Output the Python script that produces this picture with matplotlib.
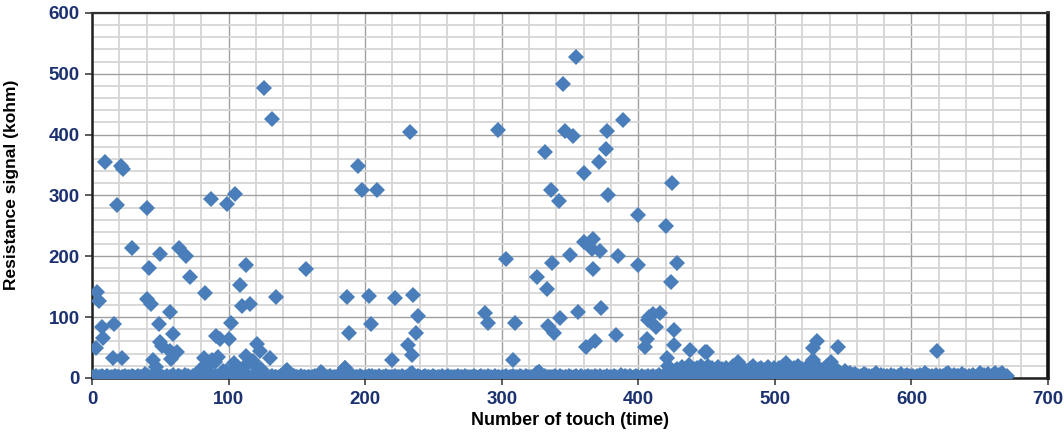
import numpy as np
import matplotlib
matplotlib.use('Agg')
import matplotlib.pyplot as plt
from matplotlib.ticker import MultipleLocator

# baseline reading for every touch 0..670 (kohm)
base_signal = [
    0, 2, 1, 3, 0, 1, 2, 4, 1, 0, 2, 3, 1, 0, 1, 2, 0, 3, 1, 2,
    1, 0, 2, 1, 3, 0, 2, 1, 0, 4, 1, 2, 0, 1, 3, 2, 1, 0, 2, 6,
    1, 3, 0, 2, 1, 0, 2, 3, 1, 0, 4, 1, 2, 0, 1, 3, 0, 2, 1, 5,
    2, 0, 1, 3, 4, 1, 0, 2, 5, 1, 3, 2, 0, 1, 4, 2, 3, 6, 1, 2,
    3, 1, 0, 2, 4, 1, 3, 0, 2, 1, 0, 3, 2, 4, 1, 0, 2, 3, 1, 0,
    2, 1, 3, 0, 1, 2, 0, 4, 1, 3, 2, 0, 1, 2, 3, 1, 0, 2, 1, 3,
    1, 2, 0, 3, 1, 0, 2, 1, 4, 0, 2, 1, 3, 0, 1, 2, 0, 1, 3, 2,
    4, 7, 11, 13, 6, 2, 1, 0, 3, 1, 2, 0, 1, 3, 0, 2, 1, 0, 2, 1,
    0, 2, 1, 3, 1, 0, 4, 7, 10, 6, 2, 1, 0, 2, 3, 1, 0, 2, 1, 0,
    3, 1, 5, 9, 12, 16, 4, 1, 2, 0, 1, 3, 0, 2, 1, 0, 3, 1, 2, 0,
    1, 2, 0, 3, 1, 4, 0, 1, 2, 0, 3, 1, 0, 2, 1, 3, 0, 1, 2, 0,
    2, 1, 3, 0, 1, 2, 0, 4, 1, 0, 2, 1, 3, 6, 8, 5, 2, 0, 1, 3,
    1, 0, 2, 1, 3, 0, 1, 2, 0, 1, 3, 2, 0, 1, 2, 0, 3, 1, 0, 2,
    1, 3, 0, 2, 1, 0, 2, 1, 3, 0, 1, 2, 0, 3, 1, 2, 0, 1, 2, 0,
    3, 1, 0, 2, 1, 4, 0, 1, 2, 0, 3, 1, 2, 0, 1, 3, 0, 2, 1, 0,
    2, 0, 1, 3, 1, 0, 2, 1, 4, 0, 2, 1, 0, 3, 1, 2, 0, 1, 3, 2,
    0, 1, 2, 0, 4, 6, 9, 10, 5, 2, 0, 1, 3, 0, 2, 1, 0, 2, 1, 3,
    1, 0, 2, 3, 1, 0, 2, 1, 0, 3, 1, 2, 0, 1, 4, 2, 0, 1, 3, 1,
    0, 2, 1, 3, 0, 1, 2, 0, 4, 1, 2, 0, 3, 1, 0, 2, 1, 3, 0, 2,
    1, 0, 3, 2, 1, 0, 2, 5, 1, 0, 3, 1, 2, 0, 4, 1, 0, 2, 3, 1,
    2, 0, 1, 3, 0, 2, 1, 4, 0, 1, 2, 3, 0, 1, 2, 5, 1, 0, 3, 2,
    1, 4, 0, 2, 6, 3, 8, 12, 15, 9, 5, 13, 18, 7, 2, 10, 16, 21, 11, 4,
    8, 14, 3, 17, 10, 6, 19, 12, 2, 9, 15, 20, 5, 11, 16, 7, 13, 1, 18, 10,
    6, 14, 9, 3, 17, 12, 0, 8, 15, 20, 11, 4, 13, 7, 18, 10, 2, 16, 9, 5,
    12, 3, 15, 8, 19, 6, 11, 0, 14, 9, 17, 4, 10, 13, 2, 18, 7, 12, 5, 16,
    9, 1, 13, 17, 6, 11, 20, 14, 3, 22, 8, 15, 10, 4, 16, 12, 7, 19, 5, 11,
    14, 2, 9, 17, 6, 13, 21, 10, 18, 4, 12, 0, 16, 8, 3, 11, 15, 5, 20, 9,
    13, 6, 10, 2, 15, 8, 12, 4, 9, 3, 7, 11, 2, 6, 4, 8, 1, 5, 3, 7,
    2, 4, 1, 3, 0, 6, 2, 5, 1, 3, 0, 4, 2, 1, 9, 3, 0, 2, 5, 1,
    3, 1, 4, 0, 2, 5, 1, 3, 2, 0, 4, 1, 6, 2, 0, 3, 1, 5, 2, 4,
    1, 3, 0, 2, 4, 1, 5, 2, 0, 3, 8, 1, 2, 4, 0, 3, 1, 2, 5, 2,
    0, 3, 1, 4, 2, 6, 1, 9, 3, 0, 2, 5, 1, 3, 4, 0, 2, 6, 1, 3,
    2, 0, 4, 1, 3, 5, 0, 2, 1, 4, 8, 3, 1, 5, 2, 0, 7, 3, 1, 4,
    2, 9, 3, 1, 5, 0, 8, 2, 4, 1, 3,
]
base_touch = list(range(len(base_signal)))

# touches with a clear resistance peak
peak_touch = [
    3, 4, 5, 7, 8, 9.5, 15, 16, 18, 21, 23, 22, 29, 40, 42, 40, 43, 45, 47,
    50, 49, 51, 50, 57, 59, 57, 62, 58, 64, 69, 72, 83, 87, 91, 94, 100, 99,
    102, 105, 108, 110, 113, 116, 113, 121, 123, 126, 130, 132, 135, 82, 84,
    88, 92, 96, 104, 106, 112, 118, 124, 80, 86, 90, 98, 119,
    157, 185, 187, 188, 195, 198, 203, 204, 209, 220, 222, 231, 233, 234,
    235, 237, 239, 288, 290, 297, 303, 308, 310, 326, 327, 333, 334, 336,
    338, 332, 342, 337, 343, 345, 346, 350, 352, 354, 356, 360, 360, 362, 366,
    367, 367, 368, 371, 372, 373, 376, 377, 378, 384, 385, 389, 400, 400,
    405, 406, 407, 408, 411, 413, 416, 420, 421, 422, 424, 425, 426, 426,
    428, 438, 449, 450, 473, 508, 528, 528, 531, 541, 546, 619,
]
peak_signal = [
    49, 141, 127, 84, 66, 355, 33, 88, 285, 349, 344, 33, 214, 279, 181, 130,
    122, 29, 18, 204, 89, 53, 59, 108, 72, 44, 43, 32, 214, 200, 166, 140, 295,
    69, 64, 64, 286, 90, 303, 153, 118, 186, 122, 36, 56, 45, 477, 33, 426, 133,
    33, 22, 30, 35, 12, 24, 18, 20, 28, 15, 14, 10, 26, 12, 20,
    179, 16, 133, 74, 349, 309, 135, 88, 309, 29, 131, 55, 404, 38,
    136, 74, 102, 107, 90, 408, 195, 30, 90, 166, 10, 146, 86, 309,
    74, 372, 291, 189, 99, 483, 406, 202, 397, 528, 108, 337, 224, 51, 212,
    228, 179, 61, 355, 209, 115, 376, 406, 301, 71, 201, 424, 268, 185,
    51, 64, 95, 100, 105, 84, 107, 250, 33, 20, 158, 320, 79, 54,
    189, 46, 43, 43, 27, 25, 49, 30, 60, 27, 51, 44,
]

marker_color = '#4a7ebb'
tick_color = '#1c3170'

fig = plt.figure(figsize=(10.64, 4.32), dpi=100)
ax = fig.add_axes([0.0865, 0.125, 0.8985, 0.845])

ax.plot(base_touch, base_signal, 'D', color=marker_color, ms=8.5, mew=0, zorder=3)
ax.plot(peak_touch, peak_signal, 'D', color=marker_color, ms=8.5, mew=0, zorder=3)

ax.set_xlim(0, 700)
ax.set_ylim(0, 600)
ax.xaxis.set_major_locator(MultipleLocator(100))
ax.yaxis.set_major_locator(MultipleLocator(100))
ax.xaxis.set_minor_locator(MultipleLocator(20))
ax.yaxis.set_minor_locator(MultipleLocator(20))

ax.grid(which='major', color='#a0a0a0', linewidth=1.0, zorder=0)
ax.grid(which='minor', color='#d6d6d6', linewidth=1.3, zorder=0)
ax.set_axisbelow(True)

ax.tick_params(which='major', direction='out', length=5, width=1.2,
               colors='#404040', labelcolor=tick_color, labelsize=13.5, pad=4)
ax.tick_params(which='minor', length=0)
for lab in ax.get_xticklabels() + ax.get_yticklabels():
    lab.set_fontweight('bold')
    lab.set_fontfamily('Liberation Sans')

ax.spines['left'].set_linewidth(1.8)
ax.spines['left'].set_color('#202020')
ax.spines['bottom'].set_linewidth(1.8)
ax.spines['bottom'].set_color('#202020')
ax.spines['top'].set_linewidth(1.6)
ax.spines['top'].set_color('#303030')
ax.spines['right'].set_linewidth(2.6)
ax.spines['right'].set_color('#111111')

ax.set_xlabel('Number of touch (time)', fontsize=13, fontweight='bold',
              family='Liberation Sans', labelpad=3)
ax.set_ylabel('Resistance signal (kohm)', fontsize=12.5, fontweight='bold',
              family='Liberation Sans', labelpad=8)
ax.yaxis.set_label_coords(-0.076, 0.53)

fig.savefig('out.png', dpi=100)
